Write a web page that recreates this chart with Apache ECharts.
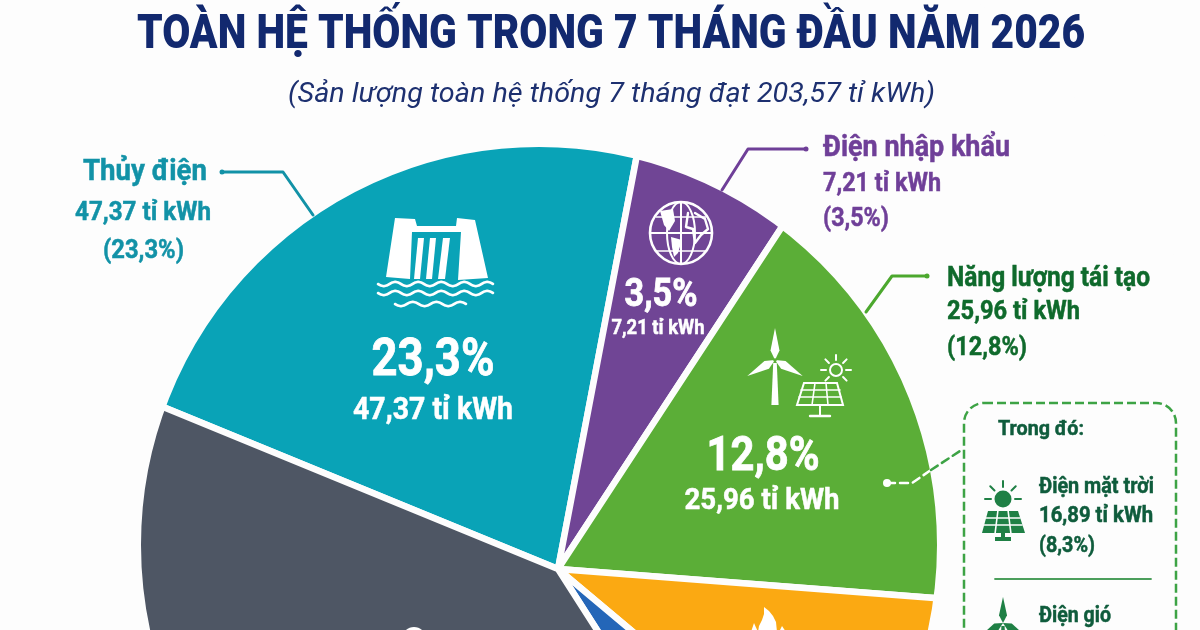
<!DOCTYPE html>
<html><head><meta charset="utf-8">
<style>html,body{margin:0;padding:0;background:#fdfdfd}#c{width:1200px;height:630px}</style>
<script src="https://cdn.jsdelivr.net/npm/echarts@6/dist/echarts.min.js"></script>
</head><body><div id="c"></div>
<script>
// DATA
var categories = ['Thủy điện','Điện nhập khẩu','Năng lượng tái tạo','Nhiệt điện khí','Khác','Nhiệt điện than'];
// Slice sweep as drawn in the picture (degrees, clockwise; the picture is not drawn to scale)
var sliceSweep = [78.5, 22.4, 61.2, 35.6, 17.4, 144.9];
var sliceColors = ['#09a3b7','#704595','#5bae37','#fba912','#2466b8','#4e5664'];
var sharesLabel = ['23,3%','3,5%','12,8%','8,8%'];
var outputLabel = ['47,37 tỉ kWh','7,21 tỉ kWh','25,96 tỉ kWh'];
var solar = ['Điện mặt trời','16,89 tỉ kWh','(8,3%)'];
var titleText = 'TOÀN HỆ THỐNG TRONG 7 THÁNG ĐẦU NĂM 2026';
var subtitleText = '(Sản lượng toàn hệ thống 7 tháng đạt 203,57 tỉ kWh)';

var BG='#fdfdfd', mctx=document.createElement('canvas').getContext('2d');
function T(text,x,y,size,color,width,o){
  o=o||{};var align=o.align||'left',weight=o.weight||'bold',st=o.italic?'italic':'normal';
  mctx.font=st+' '+weight+' '+size+'px Roboto';
  var w=mctx.measureText(text).width,s=width?width/w:1;
  var style={text:text,x:0,y:0,fill:color,font:st+' '+weight+' '+size+'px Roboto',align:align,verticalAlign:'middle'};
  if(o.bold!==0&&weight==='bold'){style.stroke=color;style.lineWidth=o.bold||0.5;}
  return {type:'text',x:x,y:y+size*0.07,scaleX:s,z:80,silent:true,style:style};
}
function L(pts,color,w,dash){return {type:'polyline',z:70,silent:true,shape:{points:pts},
  style:{stroke:color,lineWidth:w,fill:null,lineDash:dash||null,lineCap:'round',lineJoin:'round'}};}
function PG(pts,fill){return {type:'polygon',z:70,silent:true,shape:{points:pts},style:{fill:fill}};}
function C(cx,cy,r,st){return {type:'circle',z:70,silent:true,shape:{cx:cx,cy:cy,r:r},style:st};}
function off(x0,y0,pts){return pts.map(function(p){return [x0+p[0],y0+p[1]];});}
function W(x0,x1,y,amp,n){
  var pts=[],k;for(k=0;k<=n*8;k++){pts.push([x0+(x1-x0)*k/(n*8),y+amp*Math.sin(k/8*2*Math.PI)]);}return pts;
}
function rays(cx,cy,r0,r1,angs,color,w){return angs.map(function(a){var t=a*Math.PI/180;
  return L([[cx+r0*Math.cos(t),cy+r0*Math.sin(t)],[cx+r1*Math.cos(t),cy+r1*Math.sin(t)]],color,w);});}
function turbine(cx,cy,bl,base,color,w){
  var out=[];
  [-90,30,150].forEach(function(a){var t=a*Math.PI/180,c=Math.cos(t),s=Math.sin(t),nx=-s,ny=c;
    out.push(PG([[cx,cy],[cx+c*bl*0.3+nx*w,cy+s*bl*0.3+ny*w],[cx+c*bl,cy+s*bl],[cx+c*bl*0.3-nx*w,cy+s*bl*0.3-ny*w]],color));});
  out.push(PG([[cx-w*0.4,cy+3],[cx+w*0.4,cy+3],[cx+w*0.8,base],[cx-w*0.8,base]],color));
  return out;
}
var W_='#ffffff',els=[];
// mask that trims the pie to the picture's circular outline
els.push({type:'circle',z:50,silent:true,shape:{cx:539,cy:545,r:548},style:{fill:null,stroke:BG,lineWidth:300}});

// titles
els.push(T(titleText,611,33,48,'#12296f',948,{align:'center',weight:'900'}));
els.push(T(subtitleText,611.5,93,27,'#1d3070',647,{align:'center',italic:true,weight:'normal'}));

// outer labels
var teal='#1292a7',pur='#6f3f98',grn='#0f6a2c';
els.push(T(categories[0],207,170,30,teal,124,{align:'right'}));
els.push(T(outputLabel[0],211,212,26,teal,136,{align:'right'}));
els.push(T('('+sharesLabel[0]+')',184,250,26,teal,81,{align:'right'}));
els.push(L([[222,172],[283,172],[313,215]],'#1292a7',3));
els.push(C(222,172,2.5,{fill:'#1292a7'}));

els.push(T(categories[1],823,146,30,pur,187));
els.push(T(outputLabel[1],823,183,26,pur,118));
els.push(T('('+sharesLabel[1]+')',823,218,26,pur,66));
els.push(L([[806,149],[748,149],[722,190]],pur,3));
els.push(C(806,149,2.5,{fill:pur}));

els.push(T(categories[2],947,277,28,grn,203));
els.push(T(outputLabel[2],947,311,26,grn,133));
els.push(T('('+sharesLabel[2]+')',947,347,26,grn,80));
els.push(L([[927,276],[892,276],[866,312]],'#4ca82e',3));
els.push(C(927,276,2.5,{fill:'#4ca82e'}));

// inner labels
els.push(T(sharesLabel[0],433,358,52,W_,123,{align:'center',bold:0.8}));
els.push(T(outputLabel[0],433,409,32,W_,160,{align:'center'}));
els.push(T(sharesLabel[1],661,294,38,W_,73,{align:'center',bold:0.8}));
els.push(T(outputLabel[1],658,328,20,W_,93,{align:'center'}));
els.push(T(sharesLabel[2],763,455,48,W_,113,{align:'center',bold:0.8}));
els.push(T(outputLabel[2],762,500,29,W_,155,{align:'center'}));
els.push(T(sharesLabel[3],806,650,48,W_,null,{bold:0.8}));

// dashed connector + breakdown box
els.push(C(887,483,4,{fill:W_}));
els.push(L([[887,483],[912,483],[931,470]],W_,2.5,[8,5]));
els.push(L([[931,470],[963,449]],'#3da345',2.5,[8,5]));
els.push({type:'rect',z:70,silent:true,shape:{x:964,y:403,width:212,height:320,r:20},
  style:{fill:null,stroke:'#3da345',lineWidth:2.5,lineDash:[9,4]}});
var dg='#0f5c3c';
els.push(T('Trong đó:',998,428,21,dg,86));
els.push(T(solar[0],1039,486,22,dg,115));
els.push(T(solar[1],1039,515,22,dg,114));
els.push(T(solar[2],1039,545,22,dg,56));
els.push(L([[995,579],[1151,579]],'#4c9f5c',1.8));
els.push(T('Điện gió',1039,615,22,dg,72));

// dam icon
var dx=360,dy=200;
els.push(PG(off(dx,dy,[[26,77],[35,18],[55,19],[57,26],[96,26],[97,18],[115,20],[128,78],[98,80],[101,32],[52,32],[50,79]]),W_));
els.push(PG(off(dx,dy,[[54,79],[58,38],[64,38],[60,79]]),W_));
els.push(PG(off(dx,dy,[[66,79],[70,38],[76,38],[72,79]]),W_));
els.push(PG(off(dx,dy,[[78,79],[83,38],[90,38],[85,79]]),W_));
els.push(L(W(dx+18,dx+133,dy+84,2.2,5),W_,2.6));
els.push(L(W(dx+18,dx+133,dy+93,2.2,5),W_,2.6));
els.push(L(W(dx+35,dx+106,dy+104,2.2,3),W_,2.6));

// globe icon
var gx=681,gy=233,gr=31;
els.push(C(gx,gy,gr,{fill:null,stroke:W_,lineWidth:2.6}));
els.push({type:'ellipse',z:70,silent:true,shape:{cx:gx,cy:gy,rx:14,ry:gr},style:{fill:null,stroke:W_,lineWidth:2}});
els.push(L([[gx,gy-gr],[gx,gy+gr]],W_,2));
els.push(L([[gx-gr,gy],[gx+gr,gy]],W_,2));
els.push(L([[gx-25,gy-16],[gx+25,gy-16]],W_,1.6));
els.push(L([[gx-25,gy+18],[gx+25,gy+18]],W_,1.6));
els.push(PG([[gx-21,gy-22],[gx-8,gy-24],[gx-6,gy-12],[gx-12,gy-2],[gx-17,gy-8]],W_));
els.push(PG([[gx-10,gy+4],[gx+1,gy+7],[gx-3,gy+20],[gx-7,gy+24],[gx-9,gy+14]],W_));
els.push(L([[gx+7,gy-20],[gx+5,gy-6],[gx+12,gy-4],[gx+14,gy+10],[gx+20,gy+2],[gx+27,gy-4],[gx+24,gy-14],[gx+14,gy-20]],W_,2.4));

// wind + solar icon
turbine(775,360,32,405,W_,4.5).forEach(function(e){els.push(e);});
els.push(C(775,360,1.8,{fill:sliceColors[2]}));
els.push(C(836,370,6,{fill:null,stroke:W_,lineWidth:2}));
rays(836,370,10,15,[180,-135,-90,-45,0,45,135],W_,2).forEach(function(e){els.push(e);});
els.push({type:'polygon',z:70,silent:true,shape:{points:[[804,383],[837,383],[843,405],[797,405]]},style:{fill:null,stroke:W_,lineWidth:2}});
els.push(L([[801,390],[840,390]],W_,1.6));els.push(L([[799,397],[841,397]],W_,1.6));
els.push(L([[815,383],[812,405]],W_,1.6));els.push(L([[826,383],[828,405]],W_,1.6));
els.push(L([[820,405],[820,415]],W_,2));els.push(L([[810,416],[830,416]],W_,2.4));

// solar icon (box)
var sc='#1f8045';
els.push(C(1003,499,8.5,{fill:sc}));
rays(1003,499,12,18,[180,-135,-90,-45,0],sc,2).forEach(function(e){els.push(e);});
els.push(PG([[988,511],[1018,511],[1025,533],[982,533]],sc));
els.push(L([[986,518],[1020,518]],BG,1.6));els.push(L([[984,525],[1022,525]],BG,1.6));
els.push(L([[998,510],[995,534]],BG,1.6));els.push(L([[1008,510],[1011,534]],BG,1.6));
els.push(PG([[1001,533],[1005,533],[1005,537],[1011,537],[1011,541],[995,541],[995,537],[1001,537]],sc));
turbine(1003,623,26,660,sc,4).forEach(function(e){els.push(e);});

// flame and round top of the icon in the dark slice, both cut by the crop edge
els.push(PG([[764,607],[769,611],[773,616],[776,622],[777,632],[758,632],[759,626],[762,620],[764,614]],W_));
els.push(PG([[751,632],[754,623],[758,632]],W_));
els.push(PG([[779,632],[782,626],[786,632]],W_));
els.push({type:'ellipse',z:70,silent:true,shape:{cx:414,cy:641,rx:13,ry:14},style:{fill:W_}});

var chart=echarts.init(document.getElementById('c'),null,{renderer:'canvas'});
chart.setOption({
  animation:false,
  backgroundColor:BG,
  tooltip:{show:false},
  series:[{
    type:'pie',silent:true,center:[558,569],radius:[0,436],startAngle:157.7,clockwise:true,
    label:{show:false},labelLine:{show:false},
    itemStyle:{borderColor:BG,borderWidth:6.5,borderJoin:'round'},
    data:categories.map(function(n,i){return {name:n,value:sliceSweep[i],itemStyle:{color:sliceColors[i]}};})
  }],
  graphic:{elements:els}
});
</script></body></html>
